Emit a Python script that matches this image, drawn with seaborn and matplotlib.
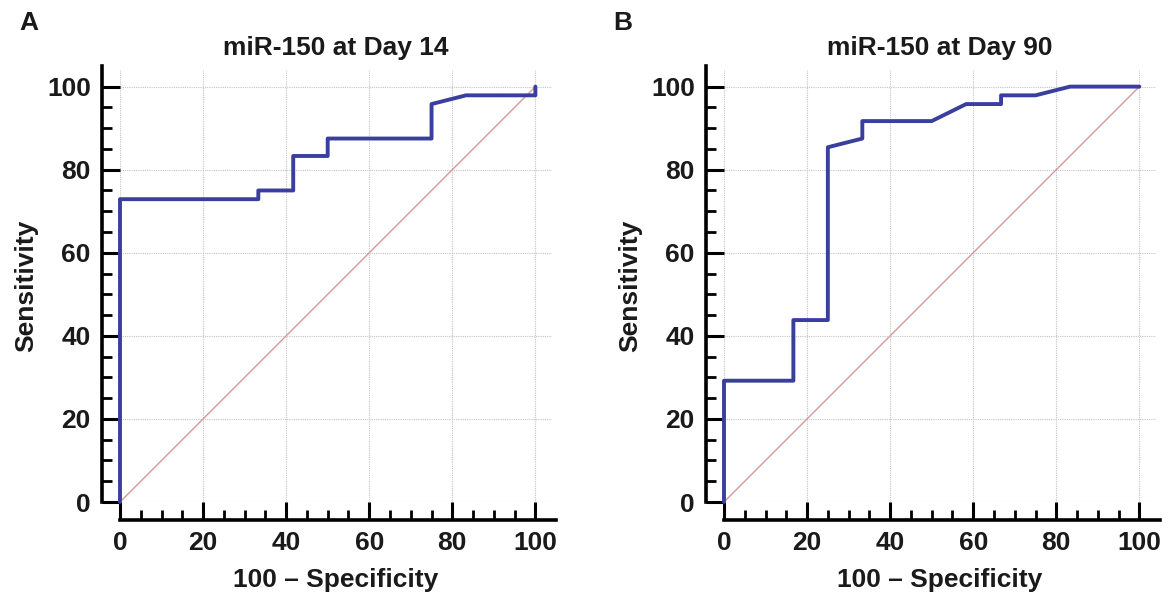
import matplotlib
matplotlib.use("Agg")
import matplotlib.pyplot as plt
import seaborn as sns
import pandas as pd
from matplotlib.ticker import MultipleLocator

# ---- data ----
titles = ["miR-150 at Day 14", "miR-150 at Day 90"]
panel_labels = ["A", "B"]

fpr_a = [0, 0, 33.3, 33.3, 41.7, 41.7, 50, 50, 75, 75, 83.3, 100, 100]
tpr_a = [0, 72.9, 72.9, 75.0, 75.0, 83.3, 83.3, 87.5, 87.5, 95.8, 97.9, 97.9, 100]

fpr_b = [0, 0, 16.7, 16.7, 25, 25, 33.3, 33.3, 50, 58.3, 66.7, 66.7, 75, 83.3, 100]
tpr_b = [0, 29.2, 29.2, 43.8, 43.8, 85.4, 87.5, 91.7, 91.7, 95.8, 95.8, 97.9, 97.9, 100, 100]

diag_x = [0, 100]
diag_y = [0, 100]

x_ticks = [0, 20, 40, 60, 80, 100]
y_ticks = [0, 20, 40, 60, 80, 100]
x_label = "100 \u2013 Specificity"
y_label = "Sensitivity"

sns.set_theme(style="white")
plt.rcParams["font.family"] = ["Liberation Sans", "DejaVu Sans"]
plt.rcParams["font.weight"] = "bold"

fig = plt.figure(figsize=(11.64, 5.92), dpi=100)
W, H = 1164, 592
curves = [(fpr_a, tpr_a), (fpr_b, tpr_b)]
lefts = [120, 724]
label_x = [19, 613]

for i, (fx, ty) in enumerate(curves):
    ax = fig.add_axes([lefts[i] / W, 90 / H, 432 / W, 432 / H])
    df = pd.DataFrame({"x": fx, "y": ty})
    ddf = pd.DataFrame({"x": diag_x, "y": diag_y})
    sns.lineplot(data=ddf, x="x", y="y", ax=ax, color="#d49a9a", lw=1.0,
                 estimator=None, sort=False, zorder=2)
    sns.lineplot(data=df, x="x", y="y", ax=ax, color="#3a3f9e", lw=2.8,
                 estimator=None, sort=False, zorder=3)
    for l in ax.lines:
        l.set_clip_on(False)
    ax.set_xlim(0, 104)
    ax.set_ylim(0, 104)
    ax.set_xticks(x_ticks)
    ax.set_yticks(y_ticks)
    ax.xaxis.set_minor_locator(MultipleLocator(5))
    ax.yaxis.set_minor_locator(MultipleLocator(5))
    ax.grid(True, which="major", color="#c4c4c4", linestyle=(0, (1, 1)), lw=0.8)
    ax.set_axisbelow(True)
    for s in ["top", "right"]:
        ax.spines[s].set_visible(False)
    for s in ["left", "bottom"]:
        ax.spines[s].set_visible(True)
        ax.spines[s].set_color("black")
        ax.spines[s].set_linewidth(2.6)
        ax.spines[s].set_position(("outward", 13))
    ax.spines["left"].set_bounds(0, 105)
    ax.spines["bottom"].set_bounds(0, 105)
    ax.tick_params(which="major", direction="in", length=13, width=2.2,
                   color="black", labelsize=19, pad=8, left=True, bottom=True)
    ax.tick_params(which="minor", direction="in", length=7, width=2.0,
                   color="black", left=True, bottom=True)
    for t in ax.get_xticklabels() + ax.get_yticklabels():
        t.set_fontweight("bold")
        t.set_color("#1a1a1a")
    ax.set_xlabel(x_label, fontsize=19, fontweight="bold", color="#1a1a1a", labelpad=9)
    ax.set_ylabel(y_label, fontsize=19, fontweight="bold", color="#1a1a1a", labelpad=6)
    ax.set_title(titles[i], fontsize=19, fontweight="bold", color="#1a1a1a", pad=11)
    fig.text(label_x[i] / W, 1 - 11 / H, panel_labels[i], fontsize=19,
             fontweight="bold", color="#1a1a1a", ha="left", va="top")

fig.savefig("out.png", dpi=100)
